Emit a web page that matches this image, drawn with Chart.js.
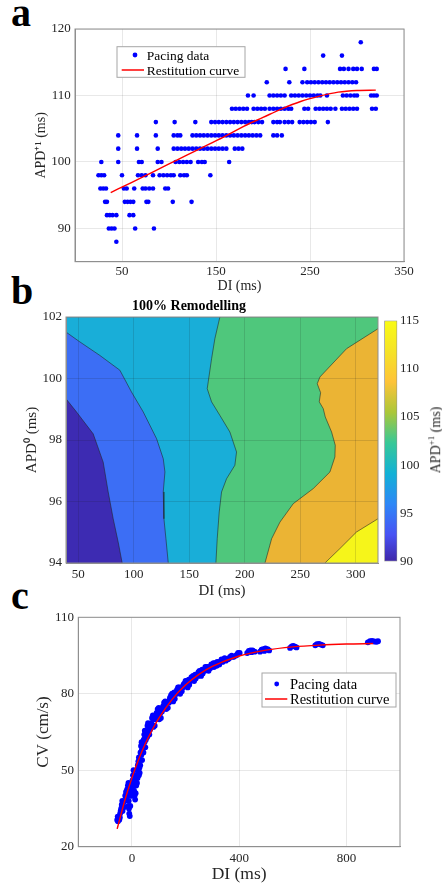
<!DOCTYPE html>
<html>
<head>
<meta charset="utf-8">
<script src="https://cdn.jsdelivr.net/npm/chart.js@4.4.0/dist/chart.umd.min.js"></script>
<style>
body { margin: 0; background: #fff; width: 442px; height: 886px; position: relative; overflow: hidden; }
.box { position: absolute; }
.letter { position: absolute; font: bold 40px "Liberation Serif", serif; line-height: 40px; color: #000; }
.cbtitle { position: absolute; font: 14px "Liberation Serif", serif; color: #262626; white-space: nowrap;
  transform: translate(-50%, -50%) rotate(-90deg); }
</style>
</head>
<body>
<div class="letter" style="left:11px;top:-7px">a</div>
<div class="letter" style="left:11px;top:271px">b</div>
<div class="letter" style="left:11px;top:576px">c</div>

<div class="box" style="left:0;top:0;width:442px;height:300px"><canvas id="chartA"></canvas></div>
<div class="box" style="left:0;top:295px;width:442px;height:310px"><canvas id="chartB"></canvas></div>
<div class="box" style="left:378px;top:310px;width:64px;height:262px"><canvas id="chartBar"></canvas></div>
<div class="cbtitle" style="left:435px;top:440px">APD<sup style="font-size:9px">+1</sup> (ms)</div>
<div class="box" style="left:0;top:605px;width:442px;height:281px"><canvas id="chartC"></canvas></div>

<script>
// ---- panel a : APD+1 vs DI, one array of DI values per APD level
const apdLevels = [118, 116, 114, 112, 110, 108, 106, 104, 102, 100, 98, 96, 94, 92, 90, 88];
const di118 = [304];
const di116 = [264, 284];
const di114 = [224, 244, 282, 286, 291, 296, 300, 305, 318, 321];
const di112 = [204, 228, 242, 247, 251, 255, 259, 263, 267, 271, 275, 279, 283, 287, 291, 295, 299];
const di110 = [184, 190, 207, 211, 215, 219, 223, 230, 234, 238, 242, 246, 250, 254, 258, 261, 268, 285, 289, 293, 297, 300, 315, 318, 321];
const di108 = [167, 171, 175, 179, 183, 190, 194, 198, 202, 207, 211, 215, 219, 223, 227, 230, 244, 248, 256, 260, 264, 268, 272, 277, 284, 288, 292, 296, 300, 316, 320];
const di106 = [86, 106, 128, 145, 149, 153, 157, 161, 165, 169, 173, 177, 181, 185, 188, 191, 195, 199, 211, 215, 218, 223, 227, 231, 239, 243, 247, 251, 255, 269];
const di104 = [46, 66, 86, 105, 109, 112, 125, 129, 133, 137, 141, 145, 149, 153, 157, 161, 165, 169, 173, 177, 181, 185, 189, 193, 197, 211, 215, 220];
const di102 = [46, 66, 88, 105, 109, 113, 117, 121, 125, 129, 133, 137, 141, 145, 149, 153, 157, 161, 170, 174, 178];
const di100 = [28, 46, 68, 71, 88, 92, 107, 111, 115, 119, 123, 131, 135, 138, 164];
const di98 = [25, 28, 31, 50, 67, 71, 75, 83, 90, 94, 98, 102, 105, 112, 116, 119, 144];
const di96 = [27, 30, 33, 52, 55, 63, 72, 75, 79, 83, 96, 99];
const di94 = [32, 34, 53, 56, 59, 62, 76, 78, 104, 124];
const di92 = [34, 37, 40, 44, 58, 62];
const di90 = [36, 39, 42, 64, 84];
const di88 = [44];
const diRows = [di118, di116, di114, di112, di110, di108, di106, di104, di102, di100, di98, di96, di94, di92, di90, di88];

const fitADI = [38, 60, 80, 100, 120, 140, 160, 180, 200, 220, 240, 260, 280, 300, 320];
const fitAAPD = [95.4, 96.9, 98.3, 99.7, 101.1, 102.5, 103.9, 105.4, 106.7, 108.0, 109.1, 109.9, 110.5, 110.75, 110.8];

// ---- panel b : contour boundaries [DI, APD0]
const edge1 = [[39, 99.34], [48.5, 98.91], [63.5, 98.2], [72.5, 97.28], [77, 96.31], [81.5, 95.44], [86, 94.68], [89.6, 94]];
const edge2 = [[39, 101.51], [51.5, 101.19], [69.5, 100.75], [87.5, 100.27], [98, 99.56], [108.6, 98.91], [120.6, 98.04],
  [126.6, 97.39], [128.1, 96.96], [126.6, 96.31], [127.2, 95.44], [129, 94.79], [131.1, 94]];
const edge3 = [[177.6, 102], [173.1, 101.3], [170.1, 100.64], [167.1, 99.89], [166.2, 99.67], [170.1, 99.24], [177.6, 98.8],
  [186.6, 98.26], [192.6, 97.61], [191.1, 97.18], [183.6, 96.74], [179.1, 96.31], [177, 95.66], [175.2, 94.79], [174, 94]];
const edge4 = [[320, 101.62], [291.7, 100.97], [267.7, 100.05], [265.3, 99.83], [268.3, 99.54], [267.1, 99.24], [270.7, 99.02],
  [272.5, 98.75], [278.2, 98.26], [281.5, 97.83], [281.2, 97.45], [276.7, 96.96], [261.7, 96.42], [243.7, 95.93],
  [231.7, 95.33], [224.2, 94.79], [218.2, 94]];
const edge5 = [[320, 95.44], [300.7, 95.01], [285.7, 94.47], [272.2, 94]];
const levelColors = ['#3d2bb2', '#3c6ef5', '#19aed8', '#4fc77c', '#ebb434', '#f6f51a'];
const cbTicks = [90, 95, 100, 105, 110, 115];
const parulaStops = [[0, '#3e26a8'], [0.111, '#4852f4'], [0.238, '#2e87f7'], [0.365, '#12b1d6'], [0.492, '#37c897'],
  [0.619, '#abc739'], [0.746, '#fec338'], [0.873, '#f5e327'], [1, '#f9fb15']];

// ---- panel c : CV vs DI
const pacingC = [[-55, 30.5], [-53, 31.8], [-52, 30], [-50, 31], [-47, 30.6], [-45, 31.5], [-44, 33], [-42, 34], [-40, 35],
  [-38, 36.5], [-36, 38], [-35, 34], [-33, 37], [-30, 35.5], [-27, 38], [-25, 40], [-22, 41.5], [-20, 38.5], [-18, 42.5],
  [-16, 40], [-15, 44], [-14, 36], [-13, 45], [-12, 41], [-12, 38], [-11, 35], [-10, 33], [-8, 32], [-6, 36], [-4, 40],
  [-2, 42], [0, 44], [0, 40], [2, 46], [2, 42], [4, 48], [6, 50], [5, 45], [7, 47], [8, 42], [9, 44], [10, 40], [11, 46],
  [12, 38.5], [14, 41], [15, 48], [16, 44], [18, 47], [19, 45], [20, 50], [21, 47], [22, 52], [24, 53.5], [26, 55],
  [24, 50], [26, 48], [28, 51], [29, 49], [30, 54], [31, 52], [32, 57], [34, 59.5], [36, 61], [35, 56], [37, 58],
  [38, 54], [39, 61], [40, 57], [42, 60], [43, 57], [44, 62], [45, 59], [46, 64], [48, 65.5], [47, 61], [49, 62.5],
  [50, 59], [52, 62], [54, 63], [55, 65], [57, 63], [58, 67.5], [59, 65], [60, 68.5], [62, 65], [64, 66.5], [65, 64],
  [68, 66], [70, 67], [72, 68.5], [75, 70.5], [78, 71.5], [80, 67], [82, 70], [85, 67.5], [88, 70], [90, 71], [92, 72.5],
  [96, 74], [98, 72], [100, 74.5], [102, 70], [106, 72.5], [108, 70.5], [112, 73], [116, 75], [118, 74.5], [120, 76.5],
  [124, 77], [126, 76], [128, 74], [132, 76.5], [134, 74.5], [138, 76.5], [140, 77.5], [142, 78.5], [146, 79.5],
  [150, 80], [152, 78.5], [154, 77], [158, 80.5], [160, 78], [164, 80], [166, 80], [168, 81.5], [172, 82.5], [174, 81],
  [176, 82.5], [180, 80], [184, 82.5], [186, 81], [190, 82.5], [192, 83.5], [195, 84], [198, 83.5], [200, 85], [205, 85],
  [208, 82.5], [212, 85.5], [214, 83.5], [218, 85], [222, 86.5], [226, 85.5], [228, 87], [232, 85], [236, 87.5],
  [238, 86], [242, 87.5], [246, 87], [248, 88.5], [252, 89], [256, 88.5], [258, 87], [262, 89.5], [264, 88], [268, 89.5],
  [272, 89], [274, 90.5], [280, 90.5], [284, 90.5], [286, 89], [292, 90], [296, 91.5], [298, 91], [304, 92], [306, 90.5],
  [310, 92], [316, 91], [318, 92.5], [322, 91.5], [326, 91.5], [328, 92.5], [334, 93.5], [338, 92.5], [342, 93.5],
  [346, 94], [350, 93], [358, 93.5], [362, 93.8], [366, 94.5], [372, 95], [376, 94.5], [380, 94.5], [388, 95],
  [392, 95.3], [396, 96], [402, 96], [430, 96], [436, 96.8], [442, 97], [446, 96.3], [450, 97], [458, 96.5], [478, 96.5],
  [484, 97.3], [490, 97.5], [494, 96.8], [498, 97.8], [506, 97.5], [512, 97], [590, 98], [596, 98.6], [602, 98.8],
  [608, 98.5], [614, 98.2], [684, 99], [690, 99.5], [698, 99.6], [705, 99.3], [712, 99], [880, 100.2], [888, 100.6],
  [896, 100.7], [904, 100.5], [912, 100.4], [918, 100.6]];
const fitCDI = [-55, -25, 0, 25, 50, 75, 100, 150, 200, 250, 300, 400, 500, 600, 700, 800, 900];
const fitCCV = [27, 38.7, 47, 54.2, 60.4, 65.7, 70.3, 77.8, 83.4, 87.6, 90.7, 94.8, 97.1, 98.4, 99.1, 99.5, 99.7];

Chart.defaults.font.family = '"Liberation Serif", serif';
Chart.defaults.color = '#262626';
Chart.defaults.animation = false;

const frameCol = '#8f8f8f';
const gridCol = 'rgba(0,0,0,0.09)';

const frame = {
  id: 'frame',
  afterDraw(chart) {
    const { ctx, chartArea: a } = chart;
    ctx.save();
    ctx.strokeStyle = frameCol;
    ctx.lineWidth = 1;
    ctx.strokeRect(a.left, a.top, a.right - a.left, a.bottom - a.top);
    ctx.restore();
  }
};

const boxLegend = {
  id: 'boxLegend',
  afterDraw(chart, args, o) {
    if (!o || !o.w) return;
    const ctx = chart.ctx;
    ctx.save();
    ctx.fillStyle = '#fff';
    ctx.strokeStyle = '#a6a6a6';
    ctx.lineWidth = 1;
    ctx.fillRect(o.x, o.y, o.w, o.h);
    ctx.strokeRect(o.x, o.y, o.w, o.h);
    ctx.font = o.size + 'px "Liberation Serif"';
    ctx.textBaseline = 'middle';
    o.order.forEach((di, i) => {
      const ds = chart.data.datasets[di];
      const cy = o.y + o.rows[i];
      if (ds.showLine) {
        ctx.strokeStyle = ds.borderColor;
        ctx.lineWidth = 1.5;
        ctx.beginPath();
        ctx.moveTo(o.x + o.line0, cy);
        ctx.lineTo(o.x + o.line1, cy);
        ctx.stroke();
      } else {
        ctx.fillStyle = ds.backgroundColor;
        ctx.beginPath();
        ctx.arc(o.x + o.dot, cy, 2.4, 0, Math.PI * 2);
        ctx.fill();
      }
      ctx.fillStyle = '#000';
      ctx.fillText(ds.label, o.x + o.text, cy + 1);
    });
    ctx.restore();
  }
};

const fixTicks = vals => axis => { axis.ticks = vals.map(v => ({ value: v })); };
const toPts = arr => arr.map(p => ({ x: p[0], y: p[1] }));

// ---------- a
const pacingA = [];
apdLevels.forEach((apd, i) => diRows[i].forEach(d => pacingA.push({ x: d, y: apd })));

new Chart(document.getElementById('chartA'), {
  type: 'scatter',
  data: {
    datasets: [
      { label: 'Restitution curve', data: fitADI.map((d, i) => ({ x: d, y: fitAAPD[i] })), showLine: true,
        borderColor: '#ff0000', borderWidth: 1.4, pointRadius: 0, cubicInterpolationMode: 'monotone', order: 0 },
      { label: 'Pacing data', data: pacingA, pointRadius: 2.3, backgroundColor: '#0000ff', borderWidth: 0, order: 1 }
    ]
  },
  options: {
    responsive: true, maintainAspectRatio: false,
    layout: { padding: { top: 29, right: 38, left: 0, bottom: 0 } },
    plugins: {
      legend: { display: false }, tooltip: { enabled: false },
      boxLegend: { x: 117, y: 46.7, w: 128, h: 30.6, size: 13.5, order: [1, 0], rows: [8.3, 23.3], dot: 18, line0: 4.7, line1: 27, text: 29.7 }
    },
    scales: {
      x: {
        type: 'linear', min: 0, max: 350,
        afterBuildTicks: fixTicks([50, 150, 250, 350]),
        afterFit: s => { s.height = 38.3; },
        grid: { color: gridCol, drawTicks: false },
        border: { color: frameCol },
        ticks: { padding: 2.2, font: { size: 13 } },
        title: { display: true, text: 'DI (ms)', font: { size: 14 }, padding: { top: 0, bottom: 4.9 } }
      },
      y: {
        min: 85, max: 120,
        afterBuildTicks: fixTicks([90, 100, 110, 120]),
        afterFit: s => { s.width = 75; },
        grid: { color: gridCol, drawTicks: false },
        border: { color: frameCol },
        ticks: { padding: 4.3, font: { size: 13 } },
        title: { display: true, text: 'APD⁺¹ (ms)', font: { size: 14 }, padding: { top: 33, bottom: 0 } }
      }
    }
  },
  plugins: [frame, boxLegend]
});

// ---------- b
const xLo = 39, xHi = 320, yLo = 94, yHi = 102;
const edges = [edge5, edge4, edge3, edge2, edge1];
const regions = [
  edge5.concat([[xHi, yLo], edge5[0]]),
  edge4.concat([[xHi, yLo], edge4[0]]),
  edge3.concat([[xHi, yLo], [xHi, yHi], edge3[0]]),
  edge2.concat([[xHi, yLo], [xHi, yHi], [xLo, yHi], edge2[0]]),
  edge1.concat([[xHi, yLo], [xHi, yHi], [xLo, yHi], edge1[0]]),
  [[xLo, yLo], [xHi, yLo], [xHi, yHi], [xLo, yHi], [xLo, yLo]]
];
const regionColors = levelColors.slice().reverse();

// contour lines first so they are drawn on top of the filled regions
const contourSets = edges.map(e => ({
  data: toPts(e), showLine: true, fill: false, pointRadius: 0, tension: 0,
  borderColor: 'rgba(35,35,35,0.8)', borderWidth: 0.7
})).concat(regions.map((r, i) => ({
  data: toPts(r), showLine: true, fill: 'shape', pointRadius: 0, tension: 0,
  backgroundColor: regionColors[i], borderWidth: 0, borderColor: regionColors[i]
})));

new Chart(document.getElementById('chartB'), {
  type: 'scatter',
  data: { datasets: contourSets },
  options: {
    responsive: true, maintainAspectRatio: false,
    layout: { padding: { top: 0, right: 64, left: 0, bottom: 0 } },
    plugins: {
      legend: { display: false }, tooltip: { enabled: false },
      title: { display: true, text: '100% Remodelling', color: '#000', font: { size: 14, weight: 'bold' }, padding: { top: 3.3, bottom: 1.9 } }
    },
    scales: {
      x: {
        type: 'linear', min: xLo, max: xHi,
        afterBuildTicks: fixTicks([50, 100, 150, 200, 250, 300]),
        afterFit: s => { s.height = 42; },
        grid: { color: 'rgba(30,30,30,0.14)', drawTicks: false, z: 1 },
        border: { color: frameCol, z: 2 },
        ticks: { padding: 4.2, font: { size: 13 } },
        title: { display: true, text: 'DI (ms)', font: { size: 15 }, padding: { top: 0, bottom: 5 } }
      },
      y: {
        min: yLo, max: yHi,
        afterBuildTicks: fixTicks([94, 96, 98, 100, 102]),
        afterFit: s => { s.width = 66; },
        grid: { color: 'rgba(30,30,30,0.14)', drawTicks: false, z: 1 },
        border: { color: frameCol, z: 2 },
        ticks: { padding: 4, font: { size: 13 } },
        title: { display: true, text: 'APD⁰ (ms)', font: { size: 15 }, padding: { top: 22.7, bottom: 0 } }
      }
    }
  },
  plugins: [frame]
});

// colour bar
new Chart(document.getElementById('chartBar'), {
  type: 'bar',
  data: {
    labels: [''],
    datasets: [{
      data: [[cbTicks[0], cbTicks[cbTicks.length - 1]]],
      barPercentage: 1, categoryPercentage: 1,
      borderColor: frameCol, borderWidth: 1, borderSkipped: false,
      backgroundColor: c => {
        const area = c.chart.chartArea;
        if (!area) return parulaStops[0][1];
        const g = c.chart.ctx.createLinearGradient(0, area.bottom, 0, area.top);
        parulaStops.forEach(s => g.addColorStop(s[0], s[1]));
        return g;
      }
    }]
  },
  options: {
    responsive: true, maintainAspectRatio: false,
    layout: { padding: { top: 8.3, right: 0, left: 6.3, bottom: 9.3 } },
    plugins: { legend: { display: false }, tooltip: { enabled: false } },
    scales: {
      x: { display: false },
      y: {
        position: 'right', min: 90, max: 115,
        afterBuildTicks: fixTicks(cbTicks),
        afterFit: s => { s.width = 44.7; },
        grid: { display: false, drawTicks: false },
        border: { display: false },
        ticks: { padding: 2.7, font: { size: 13 } }
      }
    }
  }
});

// ---------- c
new Chart(document.getElementById('chartC'), {
  type: 'scatter',
  data: {
    datasets: [
      { label: 'Restitution curve', data: fitCDI.map((d, i) => ({ x: d, y: fitCCV[i] })), showLine: true,
        borderColor: '#ff0000', borderWidth: 1.4, pointRadius: 0, cubicInterpolationMode: 'monotone', order: 0 },
      { label: 'Pacing data', data: toPts(pacingC), pointRadius: 2.9, backgroundColor: '#0000ff', borderWidth: 0, order: 1 }
    ]
  },
  options: {
    responsive: true, maintainAspectRatio: false,
    layout: { padding: { top: 12.3, right: 42, left: 0, bottom: 0 } },
    plugins: {
      legend: { display: false }, tooltip: { enabled: false },
      boxLegend: { x: 262, y: 68, w: 134, h: 34, size: 14.5, order: [1, 0], rows: [11, 26], dot: 14.7, line0: 3, line1: 25.3, text: 28 }
    },
    scales: {
      x: {
        type: 'linear', min: -200, max: 1000,
        afterBuildTicks: fixTicks([0, 400, 800]),
        afterFit: s => { s.height = 39.3; },
        grid: { color: gridCol, drawTicks: false },
        border: { color: frameCol },
        ticks: { padding: 4.5, font: { size: 13 } },
        title: { display: true, text: 'DI (ms)', font: { size: 17.5 }, padding: { top: 0, bottom: 1.5 } }
      },
      y: {
        min: 20, max: 110,
        afterBuildTicks: fixTicks([20, 50, 80, 110]),
        afterFit: s => { s.width = 78.3; },
        grid: { color: gridCol, drawTicks: false },
        border: { color: frameCol },
        ticks: { padding: 4.3, font: { size: 13 } },
        title: { display: true, text: 'CV (cm/s)', font: { size: 17 }, padding: { top: 33, bottom: 0 } }
      }
    }
  },
  plugins: [frame, boxLegend]
});
</script>
</body>
</html>
